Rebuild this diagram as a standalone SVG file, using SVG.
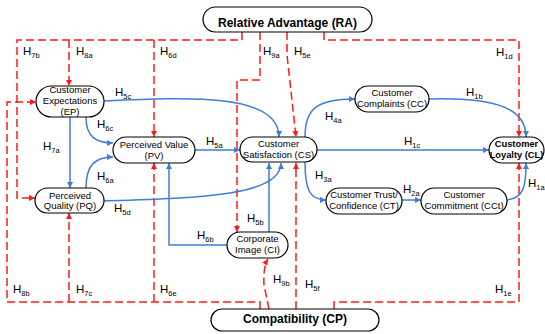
<svg xmlns="http://www.w3.org/2000/svg" width="545" height="334" viewBox="0 0 545 334">
<defs>
<style>
.r{fill:none;stroke:#ff1a1a;stroke-width:1.5;stroke-dasharray:8,4}
.b{fill:none;stroke:#3d7fd6;stroke-width:1.5}
.n{fill:#fff;stroke:#000;stroke-width:1.2}
.t{font-family:"Liberation Sans",Arial,sans-serif;font-size:9.5px;fill:#000;text-anchor:middle}
.tb{font-family:"Liberation Sans",Arial,sans-serif;font-size:9.3px;font-weight:bold;fill:#000;text-anchor:middle}
.big{font-family:"Liberation Sans",Arial,sans-serif;font-size:12px;font-weight:bold;fill:#000;text-anchor:middle}
.h{font-family:"Liberation Sans",Arial,sans-serif;font-size:11.5px;fill:#000}
.s{font-size:7.5px}
</style>
<marker id="ar" markerUnits="userSpaceOnUse" markerWidth="7" markerHeight="6" refX="6" refY="3" orient="auto"><path d="M0,0 L6,3 L0,6 z" fill="#ff1a1a"/></marker>
<marker id="ab" markerUnits="userSpaceOnUse" markerWidth="7" markerHeight="6" refX="6" refY="3" orient="auto"><path d="M0,0 L6,3 L0,6 z" fill="#3d7fd6"/></marker>
</defs>
<g id="connectors">
<path class="r" d="M242,32 L242,40 L17,40 L17,198 L35,198" marker-end="url(#ar)"/>
<path class="r" d="M69,40 L69,86" marker-end="url(#ar)"/>
<path class="r" d="M154,40 L154,137" marker-end="url(#ar)"/>
<path class="r" d="M260,32 L260,80 L237,80 L237,232" marker-end="url(#ar)"/>
<path class="r" d="M287,32 L287,55 L296,137" marker-end="url(#ar)"/>
<path class="r" d="M324,32 L324,40 L519,40 L519,137" marker-end="url(#ar)"/>
<path class="r" d="M260,309 L260,302 L7,302 L7,102 L36,102" marker-end="url(#ar)"/>
<path class="r" d="M69,302 L69,213" marker-end="url(#ar)"/>
<path class="r" d="M154,302 L154,163" marker-end="url(#ar)"/>
<path class="r" d="M296,309 L296,163" marker-end="url(#ar)"/>
<path class="r" d="M269,309 L264,285 Q263,267 268,259" marker-end="url(#ar)"/>
<path class="r" d="M334,309 L334,302 L519,302 L519,163" marker-end="url(#ar)"/>
<path class="b" d="M70,117 L70,188" marker-end="url(#ab)"/>
<path class="b" d="M86,117 C86,136 95,143 113,143" marker-end="url(#ab)"/>
<path class="b" d="M86,188 C86,165 95,157 113,157" marker-end="url(#ab)"/>
<path class="b" d="M104,101 C190,97 279,93 279,137" marker-end="url(#ab)"/>
<path class="b" d="M195,150 L240,150" marker-end="url(#ab)"/>
<path class="b" d="M104,201 C200,198 281,196 281,163" marker-end="url(#ab)"/>
<path class="b" d="M269,232 L269,163" marker-end="url(#ab)"/>
<path class="b" d="M227,245 L169,245 L169,163" marker-end="url(#ab)"/>
<path class="b" d="M305,137 C305,110 315,99 355,99" marker-end="url(#ab)"/>
<path class="b" d="M317,150 L489,150" marker-end="url(#ab)"/>
<path class="b" d="M305,162 C305,190 310,200 326,200" marker-end="url(#ab)"/>
<path class="b" d="M402,200 L421,200" marker-end="url(#ab)"/>
<path class="b" d="M507,200 C524,198 526,186 526,163" marker-end="url(#ab)"/>
<path class="b" d="M429,99 C500,97 526,110 526,137" marker-end="url(#ab)"/>
</g>
<g id="labels">
<text class="h" x="23" y="55">H<tspan class="s" dy="3">7b</tspan></text>
<text class="h" x="76" y="55">H<tspan class="s" dy="3">8a</tspan></text>
<text class="h" x="160" y="55">H<tspan class="s" dy="3">6d</tspan></text>
<text class="h" x="263" y="55">H<tspan class="s" dy="3">9a</tspan></text>
<text class="h" x="294" y="55">H<tspan class="s" dy="3">5e</tspan></text>
<text class="h" x="496" y="56">H<tspan class="s" dy="3">1d</tspan></text>
<text class="h" x="115" y="96">H<tspan class="s" dy="3">5c</tspan></text>
<text class="h" x="97" y="128">H<tspan class="s" dy="3">6c</tspan></text>
<text class="h" x="43" y="150">H<tspan class="s" dy="3">7a</tspan></text>
<text class="h" x="206" y="145">H<tspan class="s" dy="3">5a</tspan></text>
<text class="h" x="325" y="120">H<tspan class="s" dy="3">4a</tspan></text>
<text class="h" x="466" y="96">H<tspan class="s" dy="3">1b</tspan></text>
<text class="h" x="404" y="145">H<tspan class="s" dy="3">1c</tspan></text>
<text class="h" x="97" y="180">H<tspan class="s" dy="3">6a</tspan></text>
<text class="h" x="114" y="212">H<tspan class="s" dy="3">5d</tspan></text>
<text class="h" x="315" y="179">H<tspan class="s" dy="3">3a</tspan></text>
<text class="h" x="403" y="193">H<tspan class="s" dy="3">2a</tspan></text>
<text class="h" x="528" y="187">H<tspan class="s" dy="3">1a</tspan></text>
<text class="h" x="247" y="222">H<tspan class="s" dy="3">5b</tspan></text>
<text class="h" x="197" y="239">H<tspan class="s" dy="3">6b</tspan></text>
<text class="h" x="13" y="293">H<tspan class="s" dy="3">8b</tspan></text>
<text class="h" x="76" y="293">H<tspan class="s" dy="3">7c</tspan></text>
<text class="h" x="160" y="293">H<tspan class="s" dy="3">6e</tspan></text>
<text class="h" x="273" y="283">H<tspan class="s" dy="3">9b</tspan></text>
<text class="h" x="305" y="288">H<tspan class="s" dy="3">5f</tspan></text>
<text class="h" x="495" y="293">H<tspan class="s" dy="3">1e</tspan></text>
</g>
<g id="RA"><rect class="n" x="203" y="7" width="169" height="25" rx="12.5" stroke-width="1.4"/><text class="big" x="287.5" y="27">Relative Advantage (RA)</text></g>
<g id="CP"><rect class="n" x="211" y="309" width="168" height="22" rx="11" stroke-width="1.4"/><text class="big" x="295" y="323">Compatibility (CP)</text></g>
<g id="EP"><rect class="n" x="36" y="86" width="68" height="31" rx="15.5"/><text class="t" x="70" y="93">Customer</text><text class="t" x="70" y="104">Expectations</text><text class="t" x="70" y="115">(EP)</text></g>
<g id="PV"><rect class="n" x="113" y="137" width="82" height="26" rx="13"/><text class="t" x="154" y="148">Perceived Value</text><text class="t" x="154" y="159">(PV)</text></g>
<g id="PQ"><rect class="n" x="35" y="188" width="69" height="25" rx="12.5"/><text class="t" x="70" y="199">Perceived</text><text class="t" x="70" y="209">Quality (PQ)</text></g>
<g id="CS"><rect class="n" x="240" y="137" width="77" height="25" rx="12.5"/><text class="t" x="278.5" y="147">Customer</text><text class="t" x="278.5" y="158">Satisfaction (CS)</text></g>
<g id="CI"><rect class="n" x="227" y="232" width="61" height="26" rx="13"/><text class="t" x="257.5" y="242">Corporate</text><text class="t" x="257.5" y="253">Image (CI)</text></g>
<g id="CC"><rect class="n" x="355" y="86" width="74" height="26" rx="13"/><text class="t" x="392" y="96">Customer</text><text class="t" x="392" y="107">Complaints (CC)</text></g>
<g id="CT"><rect class="n" x="326" y="188" width="76" height="26" rx="13"/><text class="t" x="364" y="198">Customer Trust/</text><text class="t" x="364" y="209">Confidence (CT)</text></g>
<g id="CCt"><rect class="n" x="421" y="188" width="86" height="26" rx="13"/><text class="t" x="464" y="198">Customer</text><text class="t" x="464" y="209">Commitment (CCt)</text></g>
<g id="CL"><rect class="n" x="489" y="137" width="55" height="26" rx="13" stroke-width="1.5"/><text class="tb" x="516.5" y="147">Customer</text><text class="tb" x="516.5" y="158">Loyalty (CL)</text></g>
</svg>
